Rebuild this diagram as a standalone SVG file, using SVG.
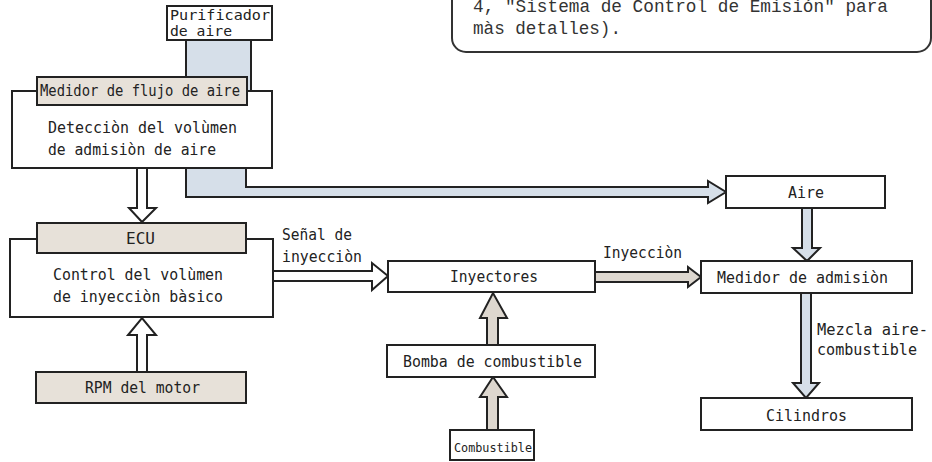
<svg xmlns="http://www.w3.org/2000/svg" width="932" height="462" viewBox="0 0 932 462">
<style>
.box{fill:#fff;stroke:#222;stroke-width:2}
.tan{fill:#e7e1d9;stroke:#222;stroke-width:2}
.t{font-family:"DejaVu Sans Mono","Liberation Mono",monospace;font-size:16px;fill:#222}
.tp{font-family:"DejaVu Sans Mono","Liberation Mono",monospace;font-size:14px;fill:#222}
.ts{font-family:"DejaVu Sans Mono","Liberation Mono",monospace;font-size:13px;fill:#222}
.c{font-family:"Liberation Mono","DejaVu Sans Mono",monospace;font-size:17.5px;fill:#333}
.aw{fill:#fff;stroke:#222;stroke-width:2;stroke-linejoin:miter}
.ag{fill:#ddd7cf;stroke:#222;stroke-width:2}
.ab{fill:#d6dfe9;stroke:#222;stroke-width:2}
</style>
<rect width="932" height="462" fill="#fff"/>

<g id="callout">
<rect x="452" y="-30" width="479" height="82" rx="14" fill="#fff" stroke="#333" stroke-width="2"/>
<text class="c" x="473" y="12" textLength="415" lengthAdjust="spacingAndGlyphs">4, "Sistema de Control de Emisión" para</text>
<text class="c" x="473" y="34" textLength="148" lengthAdjust="spacingAndGlyphs">màs detalles).</text>
</g>

<g id="connectors">
<path class="ab" d="M186,40 H251 V168 H246 V187 H708 V181 L726,192 L708,203 V197 H186 Z"/>
<path class="aw" d="M137,168 H147 V208 H156 L142,222 L129,208 H137 Z"/>
<path class="aw" d="M137,372 H147 V335 H156 L142,318 L128,335 H137 Z"/>
<path class="aw" d="M273,271 H372 V263 L388,276 L372,290 V281 H273 Z"/>
<path class="ag" d="M595,272 H688 V267 L701,277 L688,287 V282 H595 Z"/>
<path class="ag" d="M487,345 V318 H480 L493,293 L507,318 H498 V345 Z"/>
<path class="ag" d="M487,430 V397 H480 L493,377 L507,397 H498 V430 Z"/>
<path class="ab" d="M802,208 H812 V248 H820 L807,261 L793,248 H802 Z"/>
<path class="ab" d="M801,293 H811 V383 H819 L806,398 L793,383 H801 Z"/>
<text class="t" x="282" y="240" textLength="70" lengthAdjust="spacingAndGlyphs">Señal de</text>
<text class="t" x="282" y="262" textLength="80" lengthAdjust="spacingAndGlyphs">inyecciòn</text>
<text class="t" x="603" y="258" textLength="79" lengthAdjust="spacingAndGlyphs">Inyecciòn</text>
<text class="t" x="817" y="335" textLength="111" lengthAdjust="spacingAndGlyphs">Mezcla aire-</text>
<text class="t" x="817" y="355" textLength="100" lengthAdjust="spacingAndGlyphs">combustible</text>
</g>

<g id="purificador">
<rect class="box" x="167" y="6" width="105" height="34"/>
<text class="tp" x="170" y="20" textLength="100" lengthAdjust="spacingAndGlyphs">Purificador</text>
<text class="tp" x="170" y="36" textLength="62" lengthAdjust="spacingAndGlyphs">de aire</text>
</g>

<g id="medidor-flujo">
<rect class="box" x="12" y="91" width="260" height="77"/>
<rect class="tan" x="37" y="77" width="210" height="28"/>
<text class="t" x="40" y="96" textLength="200" lengthAdjust="spacingAndGlyphs">Medidor de flujo de aire</text>
<text class="t" x="48" y="133" textLength="189" lengthAdjust="spacingAndGlyphs">Detecciòn del volùmen</text>
<text class="t" x="48" y="155" textLength="168" lengthAdjust="spacingAndGlyphs">de admisiòn de aire</text>
</g>

<g id="ecu">
<rect class="box" x="10" y="239" width="263" height="78"/>
<rect class="tan" x="37" y="223" width="209" height="30"/>
<text class="t" x="126" y="244" textLength="29" lengthAdjust="spacingAndGlyphs">ECU</text>
<text class="t" x="53" y="280" textLength="170" lengthAdjust="spacingAndGlyphs">Control del volùmen</text>
<text class="t" x="53" y="302" textLength="170" lengthAdjust="spacingAndGlyphs">de inyecciòn bàsico</text>
</g>

<g id="rpm">
<rect class="tan" x="36" y="372" width="210" height="31"/>
<text class="t" x="85" y="393" textLength="115" lengthAdjust="spacingAndGlyphs">RPM del motor</text>
</g>

<g id="inyectores">
<rect class="box" x="388" y="261" width="207" height="31"/>
<text class="t" x="450" y="282" textLength="88" lengthAdjust="spacingAndGlyphs">Inyectores</text>
</g>

<g id="bomba">
<rect class="box" x="387" y="345" width="208" height="32"/>
<text class="t" x="403" y="367" textLength="179" lengthAdjust="spacingAndGlyphs">Bomba de combustible</text>
</g>

<g id="combustible">
<rect class="box" x="450" y="430" width="84" height="30"/>
<text class="ts" x="454" y="452" textLength="78" lengthAdjust="spacingAndGlyphs">Combustible</text>
</g>

<g id="aire">
<rect class="box" x="726" y="176" width="159" height="32"/>
<text class="t" x="788" y="198" textLength="36" lengthAdjust="spacingAndGlyphs">Aire</text>
</g>

<g id="medidor-admision">
<rect class="box" x="701" y="261" width="211" height="32"/>
<text class="t" x="717" y="283" textLength="171" lengthAdjust="spacingAndGlyphs">Medidor de admisiòn</text>
</g>

<g id="cilindros">
<rect class="box" x="701" y="398" width="211" height="32"/>
<text class="t" x="766" y="421" textLength="81" lengthAdjust="spacingAndGlyphs">Cilindros</text>
</g>
</svg>
